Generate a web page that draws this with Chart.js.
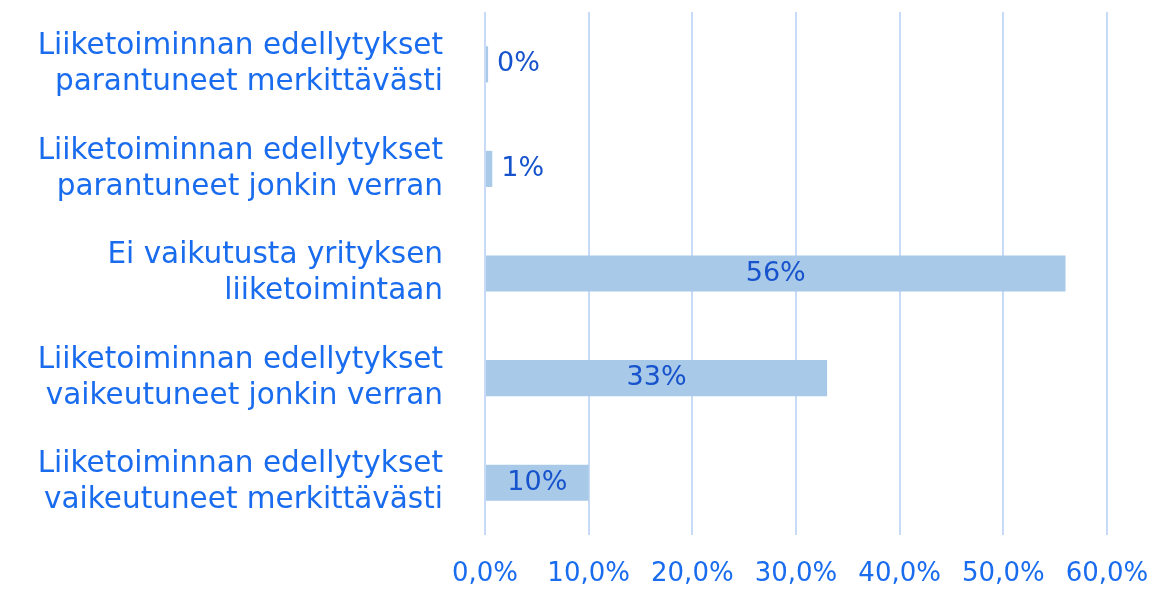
<!DOCTYPE html>
<html>
<head>
<meta charset="utf-8">
<script src="https://cdn.jsdelivr.net/npm/chart.js@4"></script>
<style>
  html, body { margin: 0; padding: 0; background: #fff; }
  #wrap { width: 1176px; height: 590px; }
</style>
</head>
<body>
<div id="wrap"><canvas id="chart"></canvas></div>
<script>
const categories = [
    ['Liiketoiminnan edellytykset', 'parantuneet merkittävästi'],
    ['Liiketoiminnan edellytykset', 'parantuneet jonkin verran'],
    ['Ei vaikutusta yrityksen', 'liiketoimintaan'],
    ['Liiketoiminnan edellytykset', 'vaikeutuneet jonkin verran'],
    ['Liiketoiminnan edellytykset', 'vaikeutuneet merkittävästi']
];
const shares = [0.3, 0.7, 56, 33, 10];
const shareLabels = ['0%', '1%', '56%', '33%', '10%'];

const FONT = '"DejaVu Sans", sans-serif';

const barLabels = {
    id: 'barLabels',
    afterDatasetsDraw(chart) {
        const ctx = chart.ctx;
        const meta = chart.getDatasetMeta(0);
        ctx.save();
        ctx.font = '27px ' + FONT;
        ctx.fillStyle = '#1653CC';
        ctx.textBaseline = 'middle';
        meta.data.forEach((bar, i) => {
            const text = shareLabels[i];
            const w = ctx.measureText(text).width;
            const len = bar.x - bar.base;
            if (len < w + 10) {
                ctx.textAlign = 'left';
                ctx.fillText(text, bar.x + 9, bar.y);
            } else {
                ctx.textAlign = 'center';
                ctx.fillText(text, (bar.x + bar.base) / 2, bar.y);
            }
        });
        ctx.restore();
    }
};

new Chart(document.getElementById('chart'), {
    type: 'bar',
    data: {
        labels: categories,
        datasets: [{
            data: shares,
            backgroundColor: '#A8C9E7',
            barPercentage: 0.345,
            categoryPercentage: 1
        }]
    },
    options: {
        indexAxis: 'y',
        responsive: true,
        maintainAspectRatio: false,
        animation: false,
        layout: { padding: { top: 12, right: 69, bottom: 0, left: 0 } },
        plugins: {
            legend: { display: false },
            tooltip: { enabled: false }
        },
        scales: {
            x: {
                min: 0,
                max: 60,
                afterFit: (scale) => { scale.height = 55; },
                ticks: {
                    stepSize: 10,
                    color: '#1A6CEE',
                    padding: 24,
                    maxRotation: 0,
                    font: { family: FONT, size: 26 },
                    callback: (v) => v.toFixed(1).replace('.', ',') + '%'
                },
                grid: { color: '#C7DAF7', lineWidth: 2, drawTicks: false },
                border: { display: false }
            },
            y: {
                afterFit: (scale) => {
                    scale.width = 485;
                    scale.paddingTop = 0;
                    scale.paddingBottom = 0;
                },
                ticks: {
                    color: '#1A6CEE',
                    padding: 34,
                    font: { family: FONT, size: 29.5, lineHeight: 1.22 }
                },
                grid: { display: false },
                border: { display: false }
            }
        }
    },
    plugins: [barLabels]
});
</script>
</body>
</html>
